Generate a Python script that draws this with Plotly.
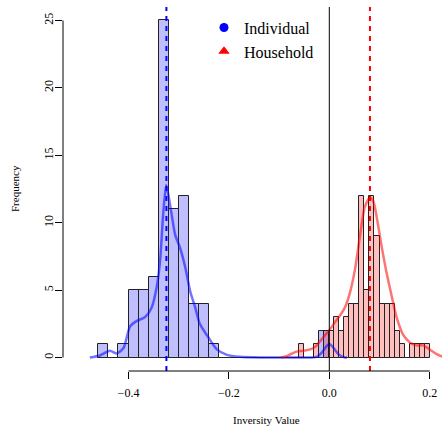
import plotly.graph_objects as go

# ---------------- data ----------------
blue_bin_edges = [-0.46, -0.44, -0.42, -0.40, -0.38, -0.36, -0.34, -0.32, -0.30, -0.28,
                  -0.26, -0.24, -0.22, -0.20, -0.18, -0.16, -0.14, -0.12, -0.10, -0.08,
                  -0.06, -0.04, -0.02, 0.00]
blue_counts = [1, 0, 1, 5, 5, 6, 25, 11, 12, 4, 4, 1,
               0, 0, 0, 0, 0, 0, 0, 0, 0, 0, 2]

red_bin_edges = [-0.06, -0.05, -0.04, -0.03, -0.02, -0.01, 0.00, 0.01, 0.02, 0.03,
                 0.04, 0.05, 0.06, 0.07, 0.08, 0.09, 0.10, 0.11, 0.12, 0.13,
                 0.14, 0.15, 0.16, 0.17, 0.18, 0.19, 0.20]
red_counts = [1, 0, 0, 1, 0, 2, 2, 3, 2, 3, 4, 4, 12, 5, 12, 9, 4, 4, 4, 2,
              1, 0, 1, 1, 1, 1]

blue_kde_x = [-0.477, -0.457, -0.437, -0.424, -0.410, -0.397, -0.384, -0.367, -0.354,
              -0.344, -0.337, -0.331, -0.325, -0.3207, -0.314, -0.307, -0.297, -0.287,
              -0.277, -0.267, -0.258, -0.241, -0.224, -0.204, -0.178, -0.138, -0.10,
              -0.05, -0.025, -0.015, -0.005, 0.0, 0.008, 0.018, 0.031, 0.035]
blue_kde_y = [0.0, 0.15, 0.5, 0.3, 0.7, 2.3, 2.7, 3.0, 3.7,
              5.2, 7.2, 10.6, 12.8, 12.1, 10.6, 9.1, 8.1, 6.7,
              4.9, 3.7, 2.5, 1.5, 0.6, 0.2, 0.05, 0.0, 0.0,
              0.0, 0.05, 0.37, 0.86, 1.0, 0.74, 0.25, 0.0, 0.0]

red_kde_x = [-0.095, -0.085, -0.075, -0.065, -0.052, -0.038, -0.028, -0.0185, -0.0086,
             0.0014, 0.011, 0.021, 0.031, 0.041, 0.051, 0.061, 0.071, 0.081, 0.0877,
             0.094, 0.104, 0.114, 0.124, 0.134, 0.147, 0.161, 0.174, 0.187, 0.200,
             0.214, 0.2245, 0.235]
red_kde_y = [0.0, 0.1, 0.28, 0.44, 0.5, 0.6, 0.8, 1.2, 1.65,
             2.1, 2.6, 3.1, 3.7, 4.8, 6.5, 9.0, 11.2, 11.85, 11.6,
             10.5, 8.3, 6.3, 4.6, 3.0, 1.7, 1.1, 0.9, 0.9, 0.6,
             0.25, 0.07, 0.02]

blue_mean = -0.3245
red_mean = 0.081

x_ticks = [-0.4, -0.2, 0.0, 0.2]
y_ticks = [0, 5, 10, 15, 20, 25]
legend_names = ["Individual", "Household"]
x_title = "Inversity Value"
y_title = "Frequency"

# ---------------- figure ----------------
FONT = '"Liberation Serif", "Times New Roman", Times, serif'
x_range = [-0.5305, 0.2245]
y_range = [-1, 26]
W, H = 442, 430
M = dict(l=63, r=0, t=7, b=59)
plot_w = W - M["l"] - M["r"]
plot_h = H - M["t"] - M["b"]


def centers(edges):
    return [(a + b) / 2 for a, b in zip(edges[:-1], edges[1:])]


def widths(edges):
    return [b - a for a, b in zip(edges[:-1], edges[1:])]


fig = go.Figure()

fig.add_trace(go.Bar(x=centers(blue_bin_edges), y=blue_counts, width=widths(blue_bin_edges),
                     marker=dict(color="rgba(0,0,255,0.25)", line=dict(color="#222", width=1)),
                     showlegend=False, hoverinfo="skip"))
fig.add_trace(go.Bar(x=centers(red_bin_edges), y=red_counts, width=widths(red_bin_edges),
                     marker=dict(color="rgba(255,0,0,0.25)", line=dict(color="#222", width=1)),
                     showlegend=False, hoverinfo="skip"))

fig.add_trace(go.Scatter(x=blue_kde_x, y=blue_kde_y, mode="lines",
                         line=dict(color="rgba(0,0,255,0.55)", width=2.5, shape="spline", smoothing=0.7),
                         showlegend=False, hoverinfo="skip"))
fig.add_trace(go.Scatter(x=red_kde_x, y=red_kde_y, mode="lines",
                         line=dict(color="rgba(255,0,0,0.55)", width=2.5, shape="spline", smoothing=0.7),
                         showlegend=False, hoverinfo="skip"))

# legend-only entries
fig.add_trace(go.Scatter(x=[None], y=[None], mode="markers", name=legend_names[0],
                         marker=dict(symbol="circle", color="blue", size=9)))
fig.add_trace(go.Scatter(x=[None], y=[None], mode="markers", name=legend_names[1],
                         marker=dict(symbol="triangle-up", color="red", size=10)))

# vertical reference lines
fig.add_shape(type="line", xref="x", yref="paper", x0=0, x1=0, y0=0, y1=1,
              line=dict(color="black", width=1))
fig.add_shape(type="line", xref="x", yref="paper", x0=blue_mean, x1=blue_mean, y0=0, y1=1,
              line=dict(color="blue", width=2, dash="5px,5px"))
fig.add_shape(type="line", xref="x", yref="paper", x0=red_mean, x1=red_mean, y0=0, y1=1,
              line=dict(color="red", width=2, dash="5px,5px"))


def px(v):
    return (v - x_range[0]) / (x_range[1] - x_range[0])


def py(v):
    return (v - y_range[0]) / (y_range[1] - y_range[0])


# R-style axis lines spanning only the tick range
fig.add_shape(type="line", xref="paper", yref="paper", x0=px(x_ticks[0]), x1=px(x_ticks[-1]),
              y0=0, y1=0, line=dict(color="black", width=1))
fig.add_shape(type="line", xref="paper", yref="paper", x0=0, x1=0,
              y0=py(y_ticks[0]), y1=py(y_ticks[-1]), line=dict(color="black", width=1))

# axis titles as annotations (R places them in the margins)
fig.add_annotation(text=x_title, xref="paper", yref="paper",
                   x=(266.7 - M["l"]) / plot_w, y=-(420 - (H - M["b"])) / plot_h,
                   xanchor="center", yanchor="middle", showarrow=False,
                   font=dict(family=FONT, size=11, color="black"))
fig.add_annotation(text=y_title, xref="paper", yref="paper",
                   x=(15 - M["l"]) / plot_w, y=0.5, textangle=-90,
                   xanchor="center", yanchor="middle", showarrow=False,
                   font=dict(family=FONT, size=11, color="black"))

fig.update_layout(
    width=W, height=H,
    margin=M,
    paper_bgcolor="white", plot_bgcolor="white",
    barmode="overlay", bargap=0,
    font=dict(family=FONT, color="black", size=12),
    legend=dict(x=(204 - M["l"]) / plot_w, y=0.99, xanchor="left", yanchor="top",
                bgcolor="rgba(0,0,0,0)", font=dict(family=FONT, size=16, color="black"),
                itemwidth=30, tracegroupgap=0),
    xaxis=dict(range=x_range, tickvals=x_ticks, tickformat=".1f", showgrid=False,
               zeroline=False, showline=False, ticks="outside", ticklen=7, tickcolor="black",
               tickfont=dict(family=FONT, size=12), ticklabelstandoff=4, automargin=False),
    yaxis=dict(range=y_range, tickvals=y_ticks, showgrid=False, zeroline=False,
               showline=False, ticks="outside", ticklen=7, tickcolor="black",
               tickfont=dict(family=FONT, size=12), tickangle=-90, ticklabelstandoff=-3,
               automargin=False),
)

fig.write_html("out.html",
               config={"displayModeBar": False},
               post_script="document.body.style.margin='0';document.body.style.padding='0';")
